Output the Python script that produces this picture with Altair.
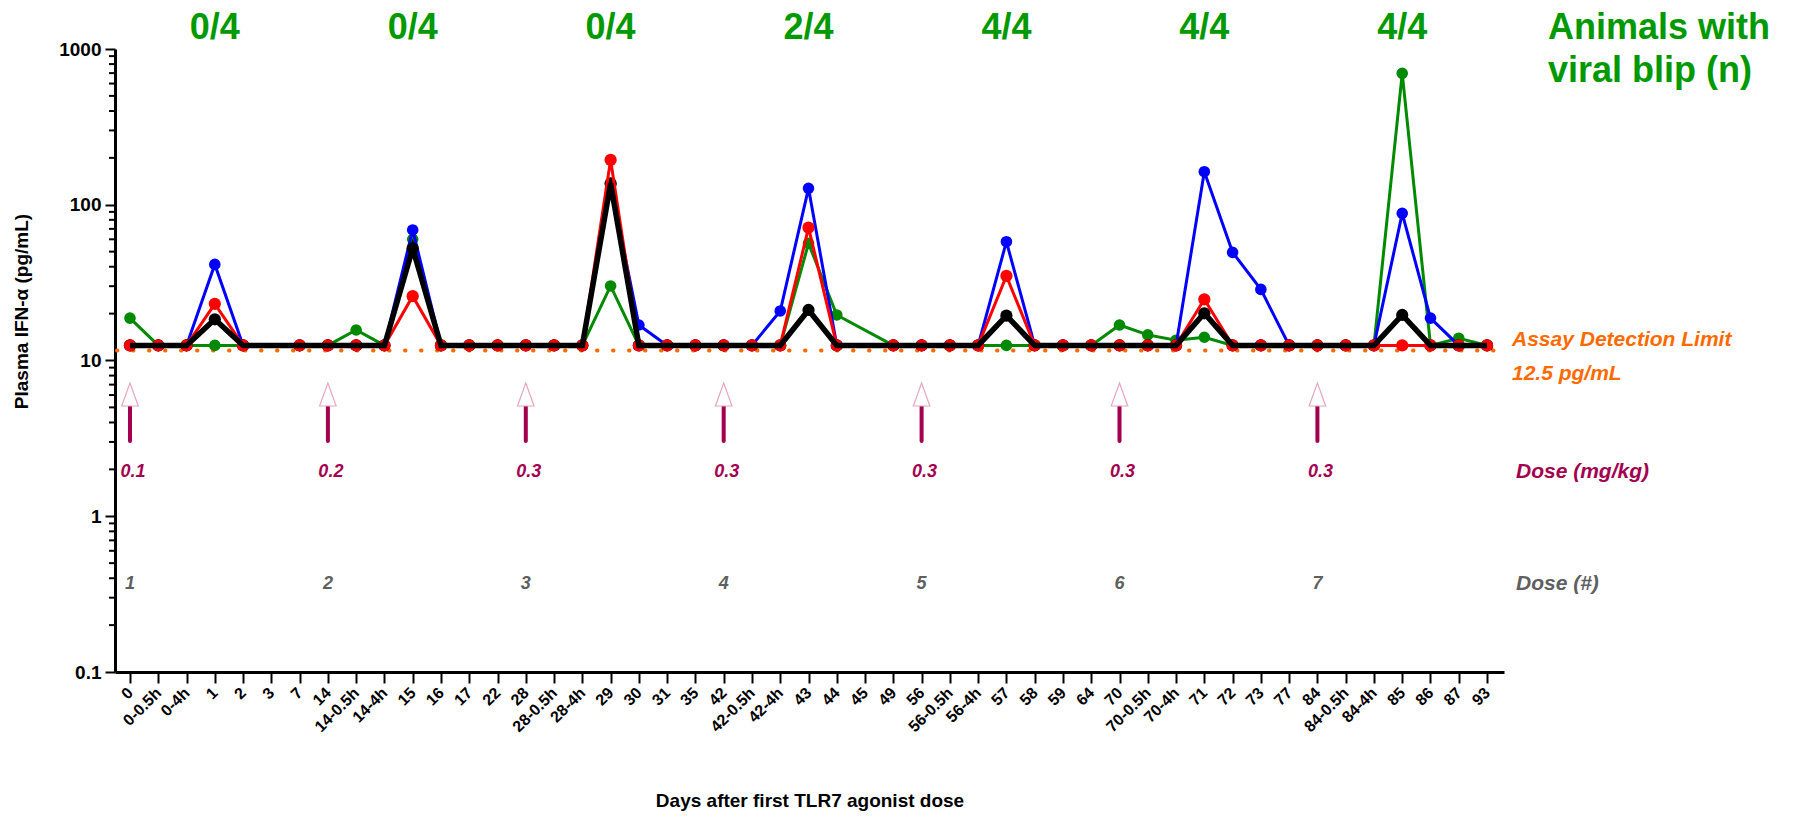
import altair as alt
import pandas as pd

# ---------------- data ----------------
labels = ["0", "0-0.5h", "0-4h", "1", "2", "3", "7",
          "14", "14-0.5h", "14-4h", "15", "16", "17", "22",
          "28", "28-0.5h", "28-4h", "29", "30", "31", "35",
          "42", "42-0.5h", "42-4h", "43", "44", "45", "49",
          "56", "56-0.5h", "56-4h", "57", "58", "59", "64",
          "70", "70-0.5h", "70-4h", "71", "72", "73", "77",
          "84", "84-0.5h", "84-4h", "85", "86", "87", "93"]

L = 12.5
N = None
green = [18.7, L, L, L, L, N, L,
         L, 15.7, L, 60.0, L, L, L,
         L, L, L, 30.1, L, L, L,
         L, L, L, 56.5, 19.6, N, L,
         L, L, L, L, L, L, L,
         16.9, 14.6, 13.5, 14.1, L, L, L,
         L, L, L, 698, L, 13.9, L]
blue = [L, L, L, 41.4, L, N, L,
        L, L, L, 68.9, L, L, L,
        L, L, L, 135, 16.9, L, L,
        L, L, 20.8, 127.5, L, N, L,
        L, L, L, 57.9, L, L, L,
        L, L, L, 163, 49.5, 28.6, L,
        L, L, L, 88.1, 18.7, L, L]
red = [L, L, L, 23.1, L, N, L,
       L, L, L, 25.9, L, L, L,
       L, L, L, 194, L, L, L,
       L, L, L, 71.3, L, N, L,
       L, L, L, 34.9, L, L, L,
       L, L, L, 24.7, L, L, L,
       L, L, L, L, L, L, L]
black = [L, L, L, 18.4, L, N, L,
         L, L, L, 52.5, L, L, L,
         L, L, L, 137, L, L, L,
         L, L, L, 21.1, L, N, L,
         L, L, L, 19.4, L, L, L,
         L, L, L, 20.1, L, L, L,
         L, L, L, 19.6, L, L, L]

blip_idx = [3, 10, 17, 24, 31, 38, 45]
blip_txt = ["0/4", "0/4", "0/4", "2/4", "4/4", "4/4", "4/4"]

dose_idx = [0, 7, 14, 21, 28, 35, 42]
dose_mgkg = ["0.1", "0.2", "0.3", "0.3", "0.3", "0.3", "0.3"]
dose_num = ["1", "2", "3", "4", "5", "6", "7"]

detection_limit = 11.6
y_ticks = [0.1, 1, 10, 100, 1000]
minor_ticks = [m * d for d in [0.1, 1, 10, 100] for m in range(2, 10)]

# ---------------- styles ----------------
FONT = "Liberation Sans"
GREEN_TXT = "#009a00"
MAGENTA = "#a3004f"
GRAY = "#5f5f5f"
ORANGE = "#ff6a00"
PINK = "#e8a6c0"

label_arr = "[" + ",".join("'" + s + "'" for s in labels) + "]"

xscale = alt.Scale(domain=[-0.53, 48.6], nice=False, zero=False)
xaxis = alt.Axis(values=list(range(len(labels))), labelExpr=label_arr + "[datum.value]",
                 labelAngle=-45, labelAlign="right", labelBaseline="middle",
                 labelFontSize=16, labelFontWeight="bold", labelPadding=7,
                 labelOverlap=False, tickSize=11, tickWidth=2, domainWidth=3, grid=False,
                 title="Days after first TLR7 agonist dose", titleFontSize=19,
                 titleFontWeight="bold", titleY=128, titleBaseline="middle")
yscale = alt.Scale(type="log", domain=[0.1, 1000], nice=False)
yaxis = alt.Axis(values=y_ticks, labelExpr="toString(datum.value)",
                 labelFontSize=19, labelFontWeight="bold", labelPadding=4,
                 tickSize=10, tickWidth=2, domainWidth=3, grid=False,
                 title="Plasma IFN-α (pg/mL)", titleFontSize=19, titleFontWeight="bold",
                 titleX=-94, titleY=262, titleAngle=270, titleAlign="center",
                 titleBaseline="middle")


def X(field="idx"):
    return alt.X(field, type="quantitative", scale=xscale, axis=xaxis)


def Y(field="v"):
    return alt.Y(field, type="quantitative", scale=yscale, axis=yaxis)


def series_df(vals):
    return pd.DataFrame([{"idx": i, "v": v} for i, v in enumerate(vals) if v is not None])


def line_layer(vals, color, width):
    return alt.Chart(series_df(vals)).mark_line(color=color, strokeWidth=width).encode(x=X(), y=Y())


def point_layer(vals, color, size):
    return alt.Chart(series_df(vals)).mark_circle(color=color, size=size, opacity=1).encode(x=X(), y=Y())


# minor ticks on y axis
minor_df = pd.DataFrame({"v": minor_ticks})
minor = alt.Chart(minor_df).mark_rule(color="black", strokeWidth=2).encode(
    y=Y(), x=alt.value(-6), x2=alt.value(0))

# detection limit dotted line
lim_df = pd.DataFrame({"v": [detection_limit]})
limit = alt.Chart(lim_df).mark_rule(color=ORANGE, strokeWidth=4, strokeDash=[0.5, 15.5],
                                    strokeCap="round").encode(
    y=Y(), x=alt.value(2), x2=alt.value(1393))

# dose arrows
arrow_df = pd.DataFrame({"idx": dose_idx, "v": [5.1] * 7, "v2": [3.04] * 7,
                         "h": [6.05] * 7, "mg": dose_mgkg, "n": dose_num,
                         "ty": [1.92] * 7, "ny": [0.367] * 7})
shaft = alt.Chart(arrow_df).mark_rule(color=MAGENTA, strokeWidth=4, strokeCap="round").encode(
    x=X(), y=Y(), y2=alt.Y2("v2"))
head = alt.Chart(arrow_df).mark_point(shape="M0,-1L0.72,1L-0.72,1Z", size=529, filled=True,
                                      fill="white", stroke=PINK, strokeWidth=1.2,
                                      opacity=1).encode(x=X(), y=Y("h"))
mg_txt = alt.Chart(arrow_df).mark_text(font=FONT, fontSize=18, fontWeight="bold", fontStyle="italic",
                                       color=MAGENTA, baseline="middle", align="center", dx=3).encode(
    x=X(), y=Y("ty"), text="mg:N")
n_txt = alt.Chart(arrow_df).mark_text(font=FONT, fontSize=18, fontWeight="bold", fontStyle="italic",
                                      color=GRAY, baseline="middle", align="center").encode(
    x=X(), y=Y("ny"), text="n:N")

# blip labels on top
blip_df = pd.DataFrame({"idx": blip_idx, "t": blip_txt})
blip = alt.Chart(blip_df).mark_text(font=FONT, fontSize=36, fontWeight="bold", color=GREEN_TXT,
                                    baseline="alphabetic", align="center").encode(
    x=X(), y=alt.value(-10), text="t:N")

# right-side annotations
side_df = pd.DataFrame({"t": ["Dose (mg/kg)", "Dose (#)"], "v": [1.92, 0.367], "c": [MAGENTA, GRAY]})
side = alt.Chart(side_df).mark_text(font=FONT, fontSize=21, fontWeight="bold", fontStyle="italic",
                                    baseline="middle", align="left").encode(
    x=alt.value(1401), y=Y(), text="t:N", color=alt.Color("c:N", scale=None))
assay_df = pd.DataFrame({"t": ["Assay Detection Limit", "12.5 pg/mL"], "v": [12.4, 7.5]})
assay = alt.Chart(assay_df).mark_text(font=FONT, fontSize=21, fontWeight="bold", fontStyle="italic",
                                      baseline="alphabetic", align="left", color=ORANGE).encode(
    x=alt.value(1397), y=Y(), text="t:N")
animals_df = pd.DataFrame({"t": ["Animals with", "viral blip (n)"], "py": [-10, 33]})
animals = alt.Chart(animals_df).mark_text(font=FONT, fontSize=36, fontWeight="bold",
                                          baseline="alphabetic", align="left", color=GREEN_TXT).encode(
    x=alt.value(1433), y=alt.Y("py:Q", scale=None), text="t:N")

chart = alt.layer(
    minor, limit,
    line_layer(green, "#008a00", 3), point_layer(green, "#008a00", 135),
    line_layer(blue, "#0000ff", 3), point_layer(blue, "#0000ff", 135),
    point_layer(black, "black", 150),
    line_layer(red, "#ff0000", 3), point_layer(red, "#ff0000", 150),
    line_layer(black, "black", 5.5),
    shaft, head, mg_txt, n_txt, blip, side, assay, animals,
).properties(
    width=1389, height=623,
    autosize=alt.AutoSizeParams(type="none"),
    padding={"left": 115, "top": 49, "right": 302, "bottom": 150},
).configure(font=FONT).configure_view(stroke=None).configure_axis(
    domainColor="black", tickColor="black", labelColor="black", titleColor="black"
)

chart.save("out.html", embed_options={"renderer": "svg", "actions": False})
